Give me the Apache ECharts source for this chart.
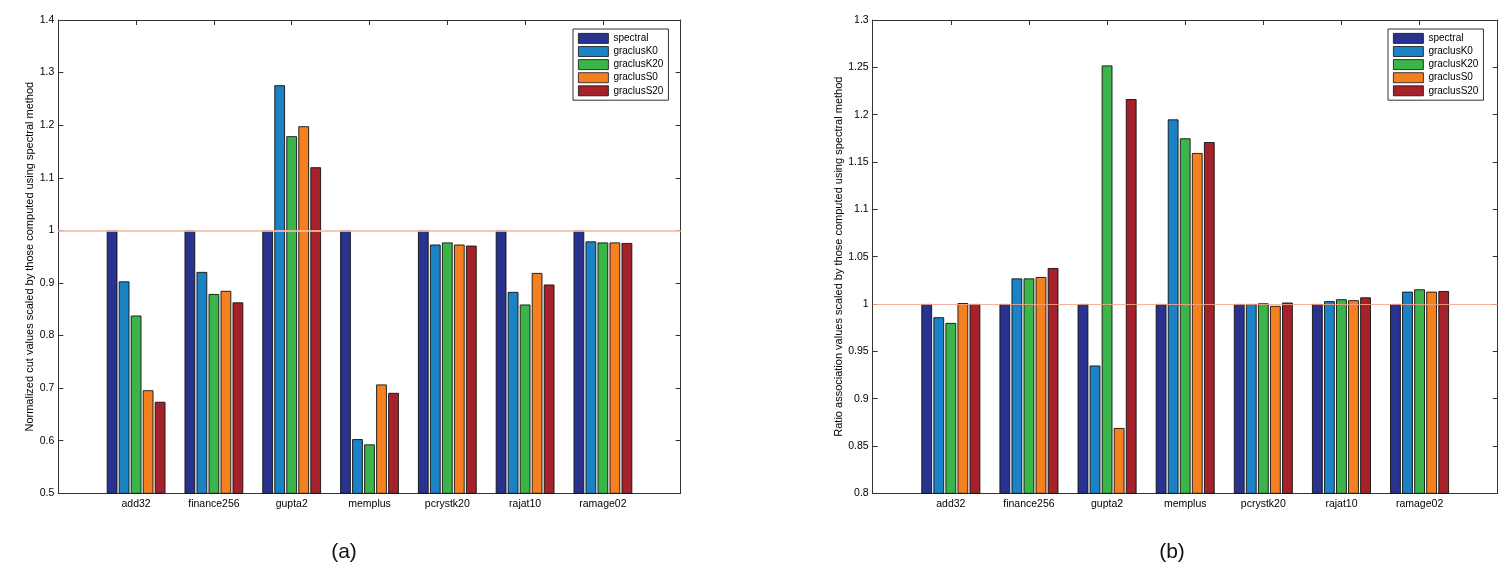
<!DOCTYPE html>
<html>
<head>
<meta charset="utf-8">
<script src="https://cdn.jsdelivr.net/npm/echarts@6/dist/echarts.min.js"></script>
<style>
  html, body { margin: 0; padding: 0; background: #fff; }
  #main { width: 1512px; height: 576px; }
</style>
</head>
<body>
<div id="main"></div>
<script>
// matrices and methods
const categories = ['add32', 'finance256', 'gupta2', 'memplus', 'pcrystk20', 'rajat10', 'ramage02'];
const methods = ['spectral', 'graclusK0', 'graclusK20', 'graclusS0', 'graclusS20'];
const colors = ['#27338f', '#1b82c6', '#3bb44a', '#f5801f', '#a6222a'];

// (a) normalized cut, scaled by spectral
const cutSpectral = [1, 1, 1, 1, 1, 1, 1];
const cutK0 = [0.903, 0.921, 1.276, 0.603, 0.973, 0.883, 0.979];
const cutK20 = [0.838, 0.879, 1.179, 0.593, 0.977, 0.859, 0.977];
const cutS0 = [0.696, 0.885, 1.198, 0.707, 0.973, 0.919, 0.977];
const cutS20 = [0.674, 0.863, 1.120, 0.691, 0.971, 0.897, 0.976];

// (b) ratio association, scaled by spectral
const assocSpectral = [1, 1, 1, 1, 1, 1, 1];
const assocK0 = [0.986, 1.027, 0.935, 1.195, 1.000, 1.003, 1.013];
const assocK20 = [0.980, 1.027, 1.252, 1.175, 1.0007, 1.005, 1.0155];
const assocS0 = [1.001, 1.0285, 0.869, 1.1595, 0.998, 1.004, 1.013];
const assocS20 = [1.000, 1.038, 1.2165, 1.171, 1.0015, 1.007, 1.0137];

const cutTicks = { min: 0.5, max: 1.4, interval: 0.1 };
const assocTicks = { min: 0.8, max: 1.3, interval: 0.05 };

// matlab puts the groups at 1..7 on a 0..8 axis, so pad with empty slots
const xCats = [''].concat(categories, ['']);
const pad = arr => [null].concat(arr, [null]);

const font = 'Liberation Sans, Arial, sans-serif';
const axisColor = '#333';

function xAxes(gi) {
  return [
    {
      type: 'category', gridIndex: gi, data: xCats, boundaryGap: false,
      axisLine: { lineStyle: { color: axisColor } },
      axisTick: { inside: true, length: 5, lineStyle: { color: axisColor } },
      axisLabel: { color: '#000', fontSize: 10.5, fontFamily: font, margin: 5 }
    },
    {
      type: 'category', gridIndex: gi, data: xCats, boundaryGap: false, position: 'top',
      axisLine: { lineStyle: { color: axisColor } },
      axisTick: { inside: true, length: 5, lineStyle: { color: axisColor } },
      axisLabel: { show: false }
    }
  ];
}

function yAxes(gi, ticks, title, gap) {
  return [
    {
      type: 'value', gridIndex: gi, min: ticks.min, max: ticks.max, interval: ticks.interval,
      name: title, nameLocation: 'middle', nameGap: gap,
      nameTextStyle: { color: '#000', fontSize: 11, fontFamily: font },
      splitLine: { show: false },
      axisLine: { show: true, lineStyle: { color: axisColor } },
      axisTick: { show: true, inside: true, length: 5, lineStyle: { color: axisColor } },
      axisLabel: { color: '#000', fontSize: 10.5, fontFamily: font, margin: 4 }
    },
    {
      type: 'value', gridIndex: gi, position: 'right', min: ticks.min, max: ticks.max, interval: ticks.interval,
      splitLine: { show: false },
      axisLine: { show: true, lineStyle: { color: axisColor } },
      axisTick: { show: true, inside: true, length: 5, lineStyle: { color: axisColor } },
      axisLabel: { show: false }
    }
  ];
}

function barSeries(gi, sets, refWidth, refColor) {
  return sets.map((vals, i) => {
    const s = {
      name: methods[i], type: 'bar',
      xAxisIndex: gi * 2, yAxisIndex: gi * 2,
      data: pad(vals),
      barCategoryGap: '24.5%', barGap: '12%',
      itemStyle: { color: colors[i], borderColor: '#111', borderWidth: 0.9 },
      emphasis: { disabled: true },
      animation: false
    };
    if (i === sets.length - 1) {
      s.markLine = {
        silent: true, symbol: 'none', label: { show: false },
        lineStyle: { color: refColor, width: refWidth, type: 'solid', opacity: 0.85 },
        data: [{ yAxis: 1 }]
      };
    }
    return s;
  });
}

function legend(left) {
  return {
    data: methods, orient: 'vertical', left: left, top: 29,
    itemWidth: 30, itemHeight: 10, itemGap: 2.3,
    padding: [4, 5, 4, 5],
    borderColor: '#333', borderWidth: 1, backgroundColor: '#fff',
    icon: 'rect',
    itemStyle: { borderColor: '#111', borderWidth: 0.8 },
    textStyle: { color: '#000', fontSize: 10, fontFamily: font },
    selectedMode: false
  };
}

const myChart = echarts.init(document.getElementById('main'));
myChart.setOption({
  animation: false,
  backgroundColor: '#fff',
  grid: [
    { left: 58.3, top: 20, width: 622.4, height: 473.3 },
    { left: 872.7, top: 20, width: 625, height: 473.3 }
  ],
  xAxis: xAxes(0).concat(xAxes(1)),
  yAxis: yAxes(0, cutTicks, 'Normalized cut values scaled by those computed using spectral method', 22)
    .concat(yAxes(1, assocTicks, 'Ratio association values scaled by those computed using spectral method', 28)),
  legend: [legend(573), legend(1388)],
  series: barSeries(0, [cutSpectral, cutK0, cutK20, cutS0, cutS20], 2, '#f8bca3')
    .concat(barSeries(1, [assocSpectral, assocK0, assocK20, assocS0, assocS20], 1.2, '#f4a58a')),
  graphic: [
    { type: 'text', x: 344, y: 552, style: { text: '(a)', fontSize: 21, fontFamily: font, fill: '#111', textAlign: 'center', textVerticalAlign: 'middle' } },
    { type: 'text', x: 1172, y: 552, style: { text: '(b)', fontSize: 21, fontFamily: font, fill: '#111', textAlign: 'center', textVerticalAlign: 'middle' } }
  ]
});
</script>
</body>
</html>
